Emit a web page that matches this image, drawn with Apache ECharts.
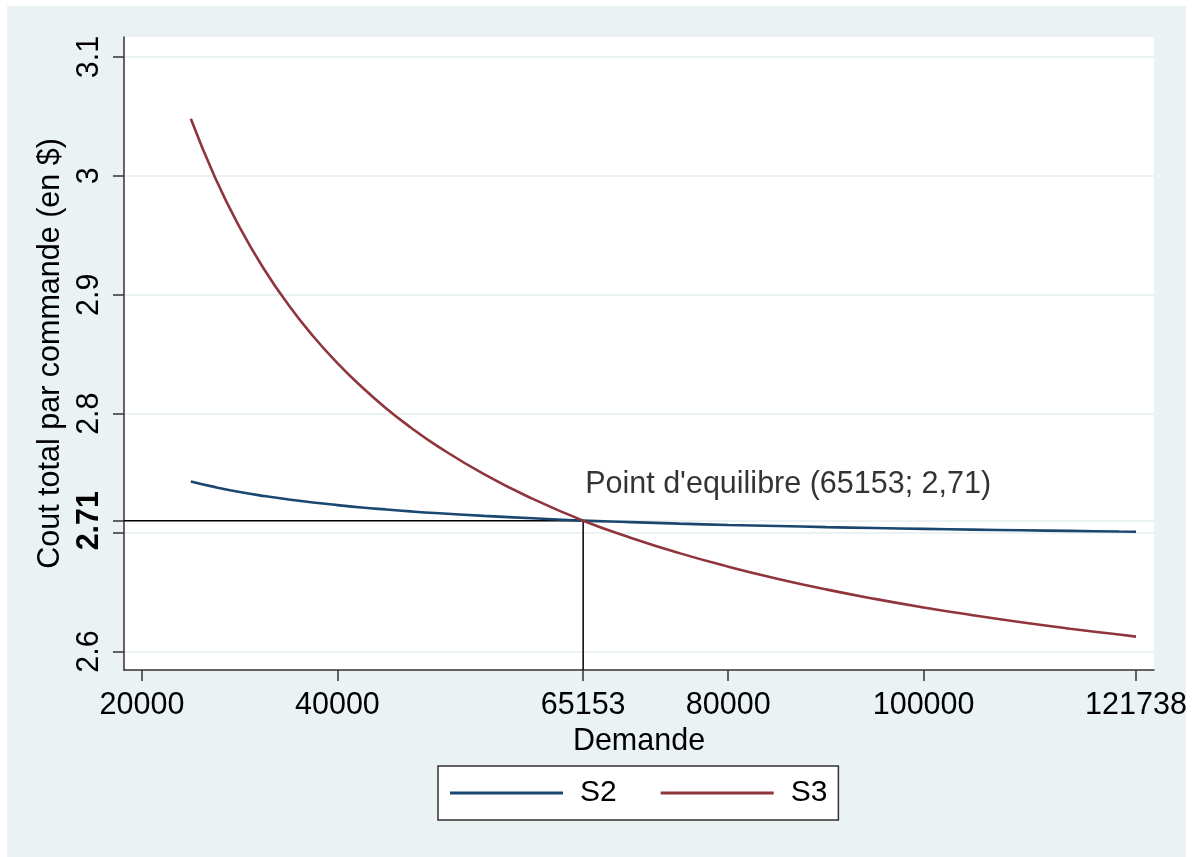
<!DOCTYPE html>
<html>
<head>
<meta charset="utf-8">
<script src="https://cdn.jsdelivr.net/npm/echarts@6/dist/echarts.min.js"></script>
<style>
html, body { margin: 0; padding: 0; background: #ffffff; width: 1198px; height: 857px; overflow: hidden; }
#chart { position: absolute; left: 7px; top: 6px; width: 1179px; height: 851px; background: #eaf2f3; }
</style>
</head>
<body>
<div id="chart"></div>
<script>
// Demand levels and total cost per order for the two scenarios
const demande = [25000, 27500, 30000, 32500, 35000, 37500, 40000, 42500, 45000, 47500, 50000,
  55000, 60000, 65153, 70000, 75000, 80000, 85000, 90000, 95000, 100000, 105000, 110000,
  115000, 120000, 121738];
const coutS2 = [2.7430, 2.7382, 2.7341, 2.7307, 2.7278, 2.7253, 2.7231, 2.7211, 2.7194, 2.7178, 2.7164,
  2.7140, 2.7120, 2.7100, 2.7088, 2.7075, 2.7064, 2.7055, 2.7046, 2.7038, 2.7031, 2.7025, 2.7019,
  2.7014, 2.7009, 2.7007];
const coutS3 = [3.0480, 2.9982, 2.9567, 2.9215, 2.8914, 2.8653, 2.8425, 2.8224, 2.8044, 2.7884, 2.7740,
  2.7491, 2.7283, 2.7100, 2.6957, 2.6827, 2.6713, 2.6612, 2.6522, 2.6442, 2.6370, 2.6305, 2.6245,
  2.6191, 2.6142, 2.6125];

// Break-even point (demand; cost)
const equilibreX = 65153;
const equilibreY = 2.71;

// Axis ticks and labels
const xTicks = [20000, 40000, 65153, 80000, 100000, 121738];
const yTicks = [2.6, 2.7, 2.71, 2.8, 2.9, 3.0, 3.1];
const yLabels = [2.6, 2.71, 2.8, 2.9, 3.0, 3.1];

const xMin = 18158, xMax = 123580;
const yMin = 2.5844, yMax = 3.1168;

const FONT = "'Liberation Sans', Arial, sans-serif";
const FS = 30.5;

const zip = (xs, ys) => xs.map((x, i) => [x, ys[i]]);

const chart = echarts.init(document.getElementById('chart'), null, { renderer: 'canvas' });

chart.setOption({
  animation: false,
  backgroundColor: '#eaf2f3',
  textStyle: { fontFamily: FONT },
  grid: {
    left: 117, top: 31, right: 32, bottom: 187,
    containLabel: false,
    outerBoundsMode: 'none',
    show: true, backgroundColor: '#ffffff', borderWidth: 0
  },
  legend: {
    data: [
      { name: 'S2', icon: 'rect' },
      { name: 'S3', icon: 'rect' }
    ],
    left: 431, top: 760,
    orient: 'horizontal',
    padding: [12, 11, 12, 12],
    itemGap: 44,
    itemWidth: 113,
    itemHeight: 3,
    backgroundColor: '#ffffff',
    borderColor: '#333333',
    borderWidth: 1.5,
    borderRadius: 0,
    textStyle: { fontFamily: FONT, fontSize: 30, color: '#000000', padding: [0, 0, 0, 12] }
  },
  xAxis: {
    type: 'value',
    min: xMin, max: xMax,
    name: 'Demande',
    nameLocation: 'middle',
    nameGap: 42,
    nameTextStyle: { fontFamily: FONT, fontSize: FS, color: '#000000' },
    axisLine: { show: true, onZero: false, lineStyle: { color: '#333333', width: 1.5 } },
    axisTick: { show: true, length: 11, customValues: xTicks, lineStyle: { color: '#333333', width: 1.5 } },
    axisLabel: {
      customValues: xTicks, margin: 20,
      fontFamily: FONT, fontSize: FS, color: '#000000',
      formatter: v => String(v)
    },
    splitLine: { show: false }
  },
  yAxis: {
    type: 'value',
    min: yMin, max: yMax,
    name: 'Cout total par commande (en $)',
    nameLocation: 'middle',
    nameRotate: 90,
    nameGap: 51,
    nameTextStyle: { fontFamily: FONT, fontSize: FS, color: '#000000' },
    axisLine: { show: true, onZero: false, lineStyle: { color: '#333333', width: 1.5 } },
    axisTick: { show: true, length: 11, customValues: yTicks, lineStyle: { color: '#333333', width: 1.5 } },
    axisLabel: {
      customValues: yLabels, margin: 19, rotate: 90,
      fontFamily: FONT, fontSize: FS, color: '#000000',
      formatter: v => (Math.abs(v - equilibreY) < 1e-9 ? '{b|' + String(v) + '}' : String(v)),
      rich: { b: { fontFamily: FONT, fontSize: FS, fontWeight: 'bold', color: '#000000' } }
    },
    splitLine: { show: true, lineStyle: { color: '#eaf2f3', width: 2 } }
  },
  series: [
    {
      name: 'repere',
      type: 'line',
      data: [[xMin, equilibreY], [equilibreX, equilibreY], [equilibreX, yMin]],
      symbol: 'none',
      silent: true,
      z: 1,
      lineStyle: { color: '#000000', width: 1.5 }
    },
    {
      name: 'S2',
      type: 'line',
      data: zip(demande, coutS2),
      symbol: 'none',
      smooth: true,
      z: 3,
      lineStyle: { color: '#1a476f', width: 2.6 },
      itemStyle: { color: '#1a476f' }
    },
    {
      name: 'S3',
      type: 'line',
      data: zip(demande, coutS3),
      symbol: 'none',
      smooth: true,
      z: 3,
      lineStyle: { color: '#90353b', width: 2.6 },
      itemStyle: { color: '#90353b' }
    },
    {
      name: 'equilibre',
      type: 'scatter',
      data: [[equilibreX, equilibreY]],
      symbolSize: 0,
      silent: true,
      z: 4,
      label: {
        show: true,
        position: [2, -36],
        align: 'left',
        verticalAlign: 'middle',
        fontFamily: FONT, fontSize: FS, color: '#000000',
        formatter: () => "Point d'equilibre (" + equilibreX + '; ' + String(equilibreY).replace('.', ',') + ')'
      }
    }
  ]
});
</script>
</body>
</html>
